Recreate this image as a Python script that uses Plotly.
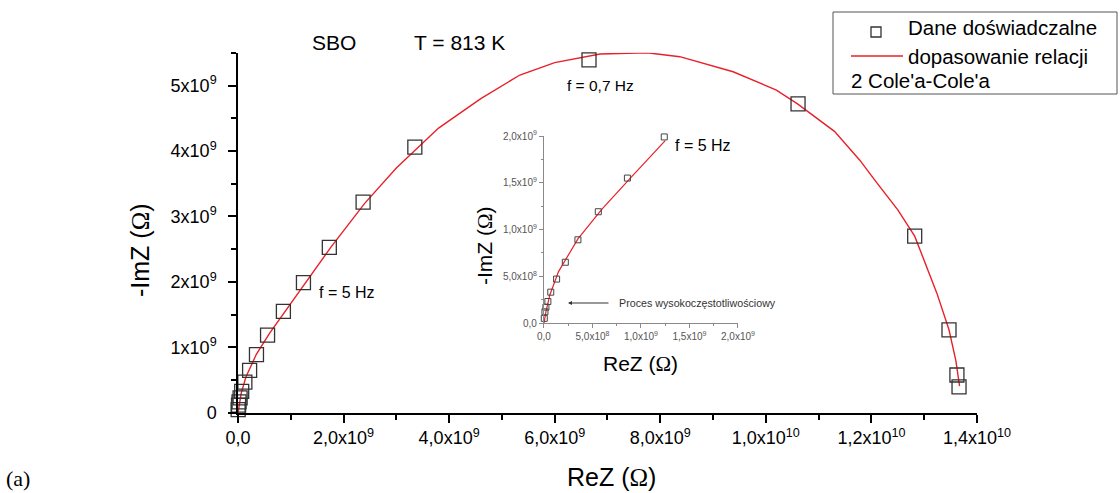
import plotly.graph_objects as go

# Measured impedance spectrum (units of 1e9 Ohm)
re_z_data = [0.003, 0.01, 0.02, 0.04, 0.07, 0.13, 0.22, 0.35, 0.56, 0.86, 1.24,
             1.73, 2.37, 3.35, 6.65, 10.61, 12.82, 13.47, 13.62, 13.66]
im_z_data = [0.05, 0.12, 0.17, 0.23, 0.33, 0.47, 0.65, 0.89, 1.19, 1.55, 1.99,
             2.53, 3.22, 4.06, 5.39, 4.72, 2.70, 1.27, 0.58, 0.40]

# Fitted 2 Cole-Cole curve (units of 1e9 Ohm)
re_z_fit = [0.0, 0.02, 0.06, 0.15, 0.35, 0.6, 0.9, 1.25, 1.75, 2.4, 3.0, 3.8,
            4.6, 5.34, 6.0, 6.86, 7.75, 8.37, 9.38, 10.2, 10.6, 11.3, 11.78,
            12.06, 12.5, 12.82, 13.24, 13.47, 13.6, 13.67]
im_z_fit = [0.0, 0.12, 0.30, 0.55, 0.90, 1.22, 1.56, 1.95, 2.52, 3.20, 3.74,
            4.35, 4.80, 5.16, 5.35, 5.48, 5.50, 5.44, 5.21, 4.93, 4.72, 4.30,
            3.86, 3.56, 3.10, 2.70, 1.83, 1.27, 0.80, 0.41]

# Inset shows the high-frequency part only (up to f = 5 Hz)
inset_limit = 1.26

x_tick_vals = [0, 2, 4, 6, 8, 10, 12, 14]
x_tick_text = ["0,0", "2,0x10<sup>9</sup>", "4,0x10<sup>9</sup>", "6,0x10<sup>9</sup>",
               "8,0x10<sup>9</sup>", "1,0x10<sup>10</sup>", "1,2x10<sup>10</sup>",
               "1,4x10<sup>10</sup>"]
y_tick_vals = [0, 1, 2, 3, 4, 5]
y_tick_text = ["0", "1x10<sup>9</sup>", "2x10<sup>9</sup>", "3x10<sup>9</sup>",
               "4x10<sup>9</sup>", "5x10<sup>9</sup>"]
inset_tick_vals = [0, 0.5, 1.0, 1.5, 2.0]
inset_tick_text = ["0,0", "5,0x10<sup>8</sup>", "1,0x10<sup>9</sup>",
                   "1,5x10<sup>9</sup>", "2,0x10<sup>9</sup>"]

G = 1e9
FONT = "Arial, 'Liberation Sans', sans-serif"
OMEGA = "<span style=\"font-family:'Liberation Serif', serif\">Ω</span>"

fig = go.Figure()

fig.add_trace(go.Scatter(
    x=[v * G for v in re_z_fit], y=[v * G for v in im_z_fit], mode="lines",
    line=dict(color="#e8202a", width=1.4), xaxis="x", yaxis="y",
    showlegend=False, cliponaxis=False))
fig.add_trace(go.Scatter(
    x=[v * G for v in re_z_data], y=[v * G for v in im_z_data], mode="markers",
    marker=dict(symbol="square-open", size=14, color="#333333",
                line=dict(width=1.3)),
    xaxis="x", yaxis="y", showlegend=False, cliponaxis=False))

fit_in = [(a, b) for a, b in zip(re_z_fit, im_z_fit) if a <= inset_limit]
dat_in = [(a, b) for a, b in zip(re_z_data, im_z_data) if a <= inset_limit]
fig.add_trace(go.Scatter(
    x=[a * G for a, _ in fit_in], y=[b * G for _, b in fit_in], mode="lines",
    line=dict(color="#e8202a", width=1.2), xaxis="x2", yaxis="y2",
    showlegend=False, cliponaxis=False))
fig.add_trace(go.Scatter(
    x=[a * G for a, _ in dat_in], y=[b * G for _, b in dat_in], mode="markers",
    marker=dict(symbol="square-open", size=6, color="#444444",
                line=dict(width=1)),
    xaxis="x2", yaxis="y2", showlegend=False, cliponaxis=False))

main_axis = dict(showline=True, linecolor="black", linewidth=1.5,
                 ticks="outside", ticklen=8, tickwidth=1.5, tickcolor="black",
                 showgrid=False, zeroline=False, automargin=False,
                 tickfont=dict(family=FONT, size=18, color="black"))
inset_axis = dict(showline=True, linecolor="#8a8a8a", linewidth=1.2,
                  ticks="outside", ticklen=4, tickwidth=1, tickcolor="#8a8a8a",
                  showgrid=False, zeroline=False, automargin=False,
                  tickfont=dict(family=FONT, size=10, color="#555555"),
                  minor=dict(ticks="outside", ticklen=2, dtick=0.25 * G,
                             tickcolor="#8a8a8a"))

fig.update_layout(
    width=1120, height=493, margin=dict(l=0, r=0, t=0, b=0, pad=0),
    paper_bgcolor="white", plot_bgcolor="rgba(0,0,0,0)",
    font=dict(family=FONT, color="black"),
    xaxis=dict(main_axis, domain=[0.2125, 0.8723], range=[0, 14 * G],
               anchor="y", tickvals=[v * G for v in x_tick_vals],
               ticktext=x_tick_text,
               minor=dict(ticks="outside", ticklen=5, dtick=1 * G,
                          tickcolor="black", tickwidth=1.5)),
    yaxis=dict(main_axis, domain=[0.1623, 0.893], range=[0, 5.5 * G],
               anchor="x", tickvals=[v * G for v in y_tick_vals],
               ticktext=y_tick_text, ticklabelstandoff=8,
               minor=dict(ticks="outside", ticklen=5, dtick=0.5 * G,
                          tickcolor="black", tickwidth=1.5)),
    xaxis2=dict(inset_axis, domain=[0.4857, 0.6589], range=[0, 2 * G],
                anchor="y2", tickvals=[v * G for v in inset_tick_vals],
                ticktext=inset_tick_text),
    yaxis2=dict(inset_axis, domain=[0.3448, 0.7241], range=[0, 2 * G],
                anchor="x2", tickvals=[v * G for v in inset_tick_vals],
                ticktext=inset_tick_text),
)

def text(x, y, s, size, xanchor="center", yanchor="middle", color="black",
         family=FONT, angle=0):
    fig.add_annotation(x=x / 1120, y=1 - y / 493, xref="paper", yref="paper",
                       text=s, showarrow=False, xanchor=xanchor,
                       yanchor=yanchor, textangle=angle,
                       font=dict(family=family, size=size, color=color))

# Axis titles
text(612, 477, f"ReZ ({OMEGA})", 25)
text(140, 250, f"-ImZ ({OMEGA})", 25, angle=-90)
text(640, 364, f"ReZ ({OMEGA})", 21)
text(485, 246, f"-ImZ ({OMEGA})", 21, angle=-90)

# Labels inside the plot
text(310, 43, "SBO", 21, xanchor="left")
text(412, 43, "T = 813 K", 21, xanchor="left")
text(565, 85, "f = 0,7 Hz", 15.5, xanchor="left")
text(317, 292, "f = 5 Hz", 16, xanchor="left")
text(673, 145, "f = 5 Hz", 16, xanchor="left")
text(617, 303, "Proces wysokoczęstotliwościowy", 10.7, xanchor="left",
     color="#333333")
text(4, 478, "(a)", 22, xanchor="left", family="'Liberation Serif', serif")

# Arrow pointing at the high-frequency arc
fig.add_annotation(x=568 / 1120, y=1 - 303 / 493, xref="paper", yref="paper",
                   axref="pixel", ayref="pixel", ax=42, ay=0, text="",
                   showarrow=True, arrowhead=2, arrowsize=0.8, arrowwidth=1,
                   arrowcolor="#333333")

# Legend box
fig.add_shape(type="rect", xref="paper", yref="paper",
              x0=833 / 1120, x1=1117 / 1120, y0=1 - 94 / 493, y1=1 - 12 / 493,
              line=dict(color="#555555", width=1), fillcolor="white")
fig.add_shape(type="rect", xref="paper", yref="paper",
              x0=871 / 1120, x1=881 / 1120, y0=1 - 37 / 493, y1=1 - 27 / 493,
              line=dict(color="#333333", width=1.3))
fig.add_shape(type="line", xref="paper", yref="paper",
              x0=851 / 1120, x1=903 / 1120, y0=1 - 56 / 493, y1=1 - 56 / 493,
              line=dict(color="#e8202a", width=1.4))
text(906, 28, "Dane doświadczalne", 20.5, xanchor="left")
text(906, 56, "dopasowanie relacji", 20.5, xanchor="left")
text(849, 80, "2 Cole'a-Cole'a", 20.5, xanchor="left")

fig.write_html("out.html")
